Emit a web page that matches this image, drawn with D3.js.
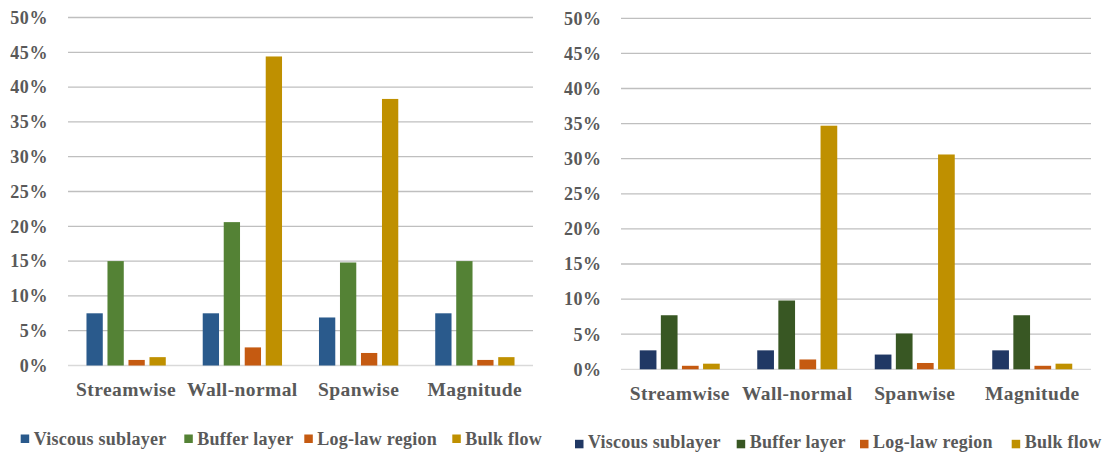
<!DOCTYPE html>
<html>
<head>
<meta charset="utf-8">
<script src="https://cdn.jsdelivr.net/npm/d3@7"></script>
<style>
  html, body { margin: 0; padding: 0; background: #fff; }
  svg text { font-family: "Liberation Serif", "Times New Roman", serif; font-weight: bold; fill: #595959; }
</style>
</head>
<body>
<svg id="chart" width="1105" height="457"></svg>
<script>
// ---- data ----
const categories = ["Streamwise", "Wall-normal", "Spanwise", "Magnitude"];
const seriesNames = ["Viscous sublayer", "Buffer layer", "Log-law region", "Bulk flow"];
const tickValues = [0, 0.05, 0.10, 0.15, 0.20, 0.25, 0.30, 0.35, 0.40, 0.45, 0.50];
const tickLabels = ["0%", "5%", "10%", "15%", "20%", "25%", "30%", "35%", "40%", "45%", "50%"];

// left panel values (per series, per category)
const leftViscous = [0.075, 0.075, 0.069, 0.075];
const leftBuffer  = [0.150, 0.206, 0.148, 0.150];
const leftLogLaw  = [0.008, 0.026, 0.018, 0.008];
const leftBulk    = [0.012, 0.444, 0.383, 0.012];

// right panel values
const rightViscous = [0.027, 0.027, 0.021, 0.027];
const rightBuffer  = [0.077, 0.098, 0.051, 0.077];
const rightLogLaw  = [0.005, 0.014, 0.009, 0.005];
const rightBulk    = [0.008, 0.347, 0.306, 0.008];

const leftColors  = ["#2A5A8C", "#548235", "#C55A11", "#BF9000"];
const rightColors = ["#203864", "#385723", "#C55A11", "#BF9000"];

// ---- layout ----
const panels = [
  { values: [leftViscous, leftBuffer, leftLogLaw, leftBulk], colors: leftColors,
    x0: 68, x1: 533, y0: 365.5, y1: 17.5, tickX: 48, catY: 396,
    barW: 16.3, barStep: 21.0,
    legX: [20.7, 184.3, 304.3, 452.3], legSqY: 434.5, legTextY: 445 },
  { values: [rightViscous, rightBuffer, rightLogLaw, rightBulk], colors: rightColors,
    x0: 621, x1: 1091, y0: 369.3, y1: 18.3, tickX: 601.7, catY: 400,
    barW: 16.7, barStep: 21.1,
    legX: [575, 736.7, 860, 1011.7], legSqY: 439.8, legTextY: 448.3 }
];

const svg = d3.select("#chart");

panels.forEach(p => {
  const g = svg.append("g");
  const y = d3.scaleLinear().domain([0, 0.5]).range([p.y0, p.y1]);
  const x = d3.scaleBand().domain(categories).range([p.x0, p.x1]).padding(0);
  const pad = 1 - p.barW / p.barStep;
  const groupW = p.barStep * (seriesNames.length - pad);
  const xs = d3.scaleBand().domain(seriesNames).range([0, groupW]).paddingInner(pad).paddingOuter(0);
  const groupOff = (x.bandwidth() - groupW) / 2;

  // gridlines
  g.append("g").selectAll("line").data(tickValues).join("line")
    .attr("x1", p.x0).attr("x2", p.x1)
    .attr("y1", d => y(d)).attr("y2", d => y(d))
    .attr("stroke", (d, i) => i === 0 ? "#D9D9D9" : "#BFBFBF")
    .attr("stroke-width", 1.3);

  // tick labels
  g.append("g").selectAll("text").data(tickValues).join("text")
    .attr("x", p.tickX).attr("y", d => y(d)).attr("dy", "0.35em")
    .attr("text-anchor", "end").style("font-size", "18px").style("letter-spacing", "0.6px")
    .text((d, i) => tickLabels[i]);

  // category labels
  g.append("g").selectAll("text").data(categories).join("text")
    .attr("x", c => x(c) + x.bandwidth() / 2).attr("y", p.catY)
    .attr("text-anchor", "middle").style("font-size", "19.5px").style("letter-spacing", "0.4px")
    .text(c => c);

  // bars
  seriesNames.forEach((s, si) => {
    g.append("g").selectAll("rect").data(categories).join("rect")
      .attr("x", c => x(c) + groupOff + xs(s))
      .attr("width", xs.bandwidth())
      .attr("y", (c, ci) => y(p.values[si][ci]))
      .attr("height", (c, ci) => y(0) - y(p.values[si][ci]))
      .attr("fill", p.colors[si]);
  });

  // legend
  const leg = g.append("g").selectAll("g").data(seriesNames).join("g")
    .attr("transform", (d, i) => `translate(${p.legX[i]},0)`);
  leg.append("rect").attr("x", 0).attr("y", p.legSqY).attr("width", 8.5).attr("height", 8.5)
    .attr("fill", (d, i) => p.colors[i]);
  leg.append("text").attr("x", 13).attr("y", p.legTextY)
    .style("font-size", "18px").style("letter-spacing", "0.25px").text(d => d);
});
</script>
</body>
</html>
